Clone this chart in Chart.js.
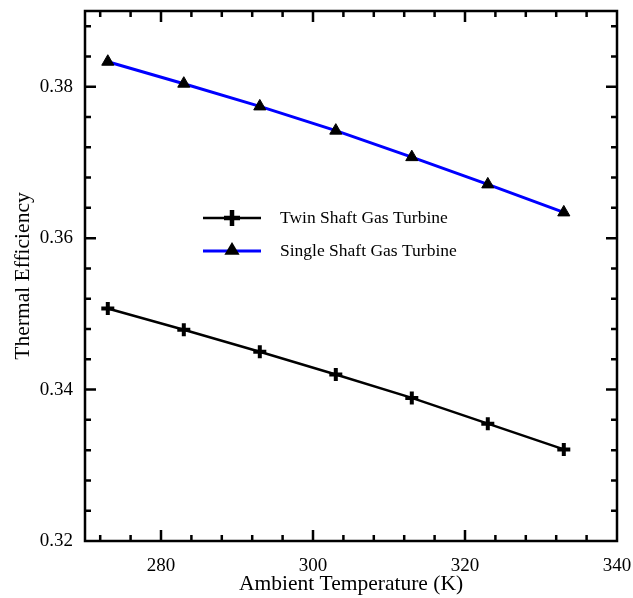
<!DOCTYPE html>
<html>
<head>
<meta charset="utf-8">
<script src="https://cdn.jsdelivr.net/npm/chart.js@4"></script>
<style>
html,body{margin:0;padding:0;background:#fff;}
#wrap{width:633px;height:598px;}
</style>
</head>
<body>
<div id="wrap"><canvas id="c" width="633" height="598"></canvas></div>
<script>
const temperatures = [273, 283, 293, 303, 313, 323, 333];
const twinShaft = [0.3507, 0.3479, 0.3450, 0.3420, 0.3389, 0.3355, 0.3321];
const singleShaft = [0.3833, 0.3804, 0.3774, 0.3742, 0.3707, 0.3671, 0.3634];
const xTickLabels = [280, 300, 320, 340];
const yTickLabels = [0.32, 0.34, 0.36, 0.38];
const xMinorTicks = [272,276,280,284,288,292,296,300,304,308,312,316,320,324,328,332,336];
const yMinorTicks = [0.324,0.328,0.332,0.336,0.34,0.344,0.348,0.352,0.356,0.36,0.364,0.368,0.372,0.376,0.38,0.384,0.388];

const serif = "'Liberation Serif', 'DejaVu Serif', serif";

function drawTriangle(ctx, cx, cy, r) {
  ctx.beginPath();
  ctx.moveTo(cx, cy - r);
  ctx.lineTo(cx + r * 0.95, cy + r * 0.6);
  ctx.lineTo(cx - r * 0.95, cy + r * 0.6);
  ctx.closePath();
  ctx.fill();
}

const framePlugin = {
  id: 'frame',
  afterDraw(chart) {
    const {ctx, chartArea: a, scales} = chart;
    const x = scales.x, y = scales.y;
    ctx.save();
    ctx.strokeStyle = '#000';
    ctx.lineWidth = 2.5;
    ctx.strokeRect(a.left, a.top, a.right - a.left, a.bottom - a.top);
    ctx.beginPath();
    xMinorTicks.forEach(v => {
      const px = x.getPixelForValue(v);
      const len = xTickLabels.includes(v) ? 11 : 6;
      ctx.moveTo(px, a.bottom); ctx.lineTo(px, a.bottom - len);
      ctx.moveTo(px, a.top); ctx.lineTo(px, a.top + len);
    });
    yMinorTicks.forEach(v => {
      const py = y.getPixelForValue(v);
      const len = yTickLabels.some(t => Math.abs(t - v) < 1e-6) ? 11 : 6;
      ctx.moveTo(a.left, py); ctx.lineTo(a.left + len, py);
      ctx.moveTo(a.right, py); ctx.lineTo(a.right - len, py);
    });
    ctx.stroke();

    // legend
    const items = chart.data.datasets;
    const lx0 = 203, lx1 = 261, tx = 280;
    const ly = [218, 251];
    items.forEach((ds, i) => {
      const yy = ly[i];
      const cx = (lx0 + lx1) / 2;
      ctx.strokeStyle = ds.borderColor;
      ctx.lineWidth = ds.borderWidth;
      ctx.beginPath(); ctx.moveTo(lx0, yy); ctx.lineTo(lx1, yy); ctx.stroke();
      ctx.fillStyle = '#000';
      ctx.strokeStyle = '#000';
      if (ds.pointStyle === 'triangle') {
        drawTriangle(ctx, cx, yy - 1, 8);
      } else {
        ctx.lineWidth = 4.5;
        ctx.beginPath();
        ctx.moveTo(cx - 8, yy); ctx.lineTo(cx + 8, yy);
        ctx.moveTo(cx, yy - 8); ctx.lineTo(cx, yy + 8);
        ctx.stroke();
      }
      ctx.fillStyle = '#000';
      ctx.font = '17.5px ' + serif;
      ctx.textAlign = 'left';
      ctx.textBaseline = 'middle';
      ctx.fillText(ds.label, tx, yy);
    });
    ctx.restore();
  }
};

new Chart(document.getElementById('c'), {
  type: 'scatter',
  data: {
    datasets: [
      {
        label: 'Twin Shaft Gas Turbine',
        data: temperatures.map((t, i) => ({x: t, y: twinShaft[i]})),
        showLine: true,
        borderColor: '#000',
        backgroundColor: '#000',
        borderWidth: 2.5,
        pointStyle: 'cross',
        pointRadius: 6.5,
        pointBorderWidth: 4,
        pointBorderColor: '#000',
        pointBackgroundColor: '#000'
      },
      {
        label: 'Single Shaft Gas Turbine',
        data: temperatures.map((t, i) => ({x: t, y: singleShaft[i]})),
        showLine: true,
        borderColor: '#0000ff',
        backgroundColor: '#000',
        borderWidth: 3,
        pointStyle: 'triangle',
        pointRadius: 7,
        pointBorderWidth: 1,
        pointBorderColor: '#000',
        pointBackgroundColor: '#000'
      }
    ]
  },
  options: {
    responsive: false,
    animation: false,
    devicePixelRatio: 1,
    layout: {padding: {top: 11, right: 16, left: 0, bottom: 0}},
    plugins: {legend: {display: false}, tooltip: {enabled: false}},
    scales: {
      x: {
        type: 'linear',
        min: 270, max: 340,
        grid: {display: false, drawTicks: false},
        border: {display: false},
        afterBuildTicks: s => { s.ticks = xTickLabels.map(v => ({value: v})); },
        afterFit: s => { s.height = 57; s.paddingLeft = 0; s.paddingRight = 0; },
        ticks: {color: '#000', font: {family: serif, size: 19}, padding: 14},
        title: {display: true, text: 'Ambient Temperature (K)', color: '#000', font: {family: serif, size: 21.5}, padding: {top: 0, bottom: 1}}
      },
      y: {
        type: 'linear',
        min: 0.32, max: 0.39,
        grid: {display: false, drawTicks: false},
        border: {display: false},
        afterBuildTicks: s => { s.ticks = yTickLabels.map(v => ({value: v})); },
        afterFit: s => { s.width = 85; s.paddingTop = 0; s.paddingBottom = 0; },
        ticks: {color: '#000', font: {family: serif, size: 19}, padding: 12,
          callback: v => v.toFixed(2)},
        title: {display: true, text: 'Thermal Efficiency', color: '#000', font: {family: serif, size: 21.5}, padding: {top: 10, bottom: 4}}
      }
    }
  },
  plugins: [framePlugin]
});
</script>
</body>
</html>
